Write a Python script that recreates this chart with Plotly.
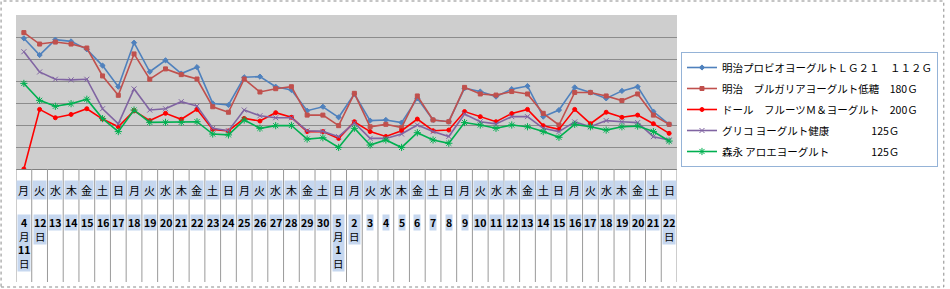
import plotly.graph_objects as go

# ---- data ----
dates = ["4/11","4/12","4/13","4/14","4/15","4/16","4/17","4/18","4/19","4/20",
         "4/21","4/22","4/23","4/24","4/25","4/26","4/27","4/28","4/29","4/30",
         "5/1","5/2","5/3","5/4","5/5","5/6","5/7","5/8","5/9","5/10",
         "5/11","5/12","5/13","5/14","5/15","5/16","5/17","5/18","5/19","5/20",
         "5/21","5/22"]
weekdays = ["月","火","水","木","金","土","日"] * 6
date_labels = ["<b>4</b><br>月<br><b>11</b><br>日", "<b>12</b><br>日"] + \
    [f"<b>{d}</b>" for d in range(13, 31)] + \
    ["<b>5</b><br>月<br><b>1</b><br>日", "<b>2</b><br>日"] + \
    [f"<b>{d}</b>" for d in range(3, 22)] + ["<b>22</b><br>日"]

meiji_lg21 = [594, 518, 588, 580, 544, 470, 374, 574, 442, 494, 434, 463, 298, 291, 417, 420, 374, 359, 265, 283, 235,
              341, 220, 223, 211, 321, 223, 215, 367, 352, 329, 363, 377, 238, 268, 371, 348, 321, 355, 374, 261, 203]
meiji_bulgaria = [620, 568, 577, 568, 550, 423, 335, 523, 408, 455, 429, 409, 283, 258, 409, 350, 365, 374, 245, 245, 197,
                  344, 192, 203, 188, 332, 223, 215, 371, 341, 336, 352, 341, 253, 200, 348, 348, 332, 311, 341, 245, 203]
dole = [0, 271, 233, 248, 274, 227, 192, 265, 220, 253, 226, 271, 180, 173, 230, 218, 256, 235, 170, 170, 139,
        215, 170, 148, 174, 227, 174, 177, 261, 238, 215, 252, 271, 197, 180, 271, 206, 258, 235, 245, 206, 162]
glico = [533, 441, 408, 405, 408, 274, 205, 364, 268, 274, 306, 286, 185, 174, 268, 242, 233, 233, 174, 171, 147,
         210, 139, 139, 159, 200, 170, 148, 250, 215, 205, 238, 238, 185, 170, 214, 192, 220, 215, 211, 147, 132]
morinaga = [389, 312, 285, 297, 317, 229, 170, 268, 212, 212, 212, 215, 159, 155, 223, 185, 197, 198, 136, 142, 98,
            185, 109, 132, 98, 165, 132, 117, 211, 200, 185, 200, 192, 170, 144, 203, 192, 177, 192, 195, 170, 127]

series = [
    ("明治プロビオヨーグルトＬＧ２１　１１２Ｇ", meiji_lg21, "#4f81bd", "diamond", 4),
    ("明治　ブルガリアヨーグルト低糖　180Ｇ", meiji_bulgaria, "#c0504d", "square", 4),
    ("ドール　フルーツＭ＆ヨーグルト　200Ｇ", dole, "#ff0000", "circle", 4),
    ("グリコ ヨーグルト健康　　　　125Ｇ", glico, "#8064a2", "x-thin-open", 5),
    ("森永 アロエヨーグルト　　　　125Ｇ", morinaga, "#00b050", "asterisk-open", 6),
]

FONT = "Noto Sans CJK JP"
fig = go.Figure()
for k, (name, vals, color, sym, size) in enumerate(series):
    fig.add_trace(go.Scatter(
        x=dates, y=vals, name=name, mode="lines+markers", legendgroup=f"g{k}",
        line=dict(color=color, width=1.6),
        marker=dict(symbol=sym, size=size, color=color, line=dict(color=color, width=1)),
    ))

# geometry helpers (pixel -> paper)
L, R, T, B = 16, 680, 15, 169
W, H = 950, 289
def px(x): return (x - L) / (R - L)
def py(y): return (B - y) / (B - T)

shapes = []
n = len(dates)
for i in range(n + 1):
    shapes.append(dict(type="line", xref="x", yref="paper", x0=i - 0.5, x1=i - 0.5,
                       y0=0, y1=py(282), line=dict(color="#9a9a9a", width=1)))
shapes.append(dict(type="rect", xref="paper", yref="paper", x0=px(1), x1=px(948),
                   y0=py(287), y1=py(1), line=dict(color="#8a8a8a", width=1, dash="dot")))

annotations = []
for i, (wd, dl) in enumerate(zip(weekdays, date_labels)):
    annotations.append(dict(x=i, y=py(190), xref="x", yref="paper", text=wd, showarrow=False,
                            yanchor="middle", xanchor="center", bgcolor="#c6d7ef", borderpad=1,
                            font=dict(family=FONT, size=11, color="#000")))
    annotations.append(dict(x=i, y=py(214), xref="x", yref="paper", text=dl, showarrow=False,
                            yanchor="top", xanchor="center", bgcolor="#c6d7ef", borderpad=0,
                            font=dict(family=FONT, size=10.5, color="#000")))

fig.update_layout(
    width=W, height=H,
    margin=dict(l=L, r=W - R, t=T, b=H - B, pad=0),
    paper_bgcolor="white", plot_bgcolor="#cecece",
    font=dict(family=FONT, size=11, color="#000"),
    showlegend=True,
    legend=dict(x=px(684), y=py(52), xanchor="left", yanchor="top",
                bgcolor="white", bordercolor="#95b3d7", borderwidth=1,
                font=dict(family=FONT, size=10.5), tracegroupgap=2,
                traceorder="grouped", itemwidth=30),
    xaxis=dict(type="category", range=[-0.5, n - 0.5], showticklabels=False, ticks="",
               showgrid=False, zeroline=False, showline=True, linecolor="#808080", linewidth=1),
    yaxis=dict(range=[0, 700], dtick=100, showticklabels=False, ticks="",
               showgrid=True, gridcolor="#8c8c8c", gridwidth=1, zeroline=False, showline=False),
    shapes=shapes, annotations=annotations,
)

fig.write_html("out.html")
